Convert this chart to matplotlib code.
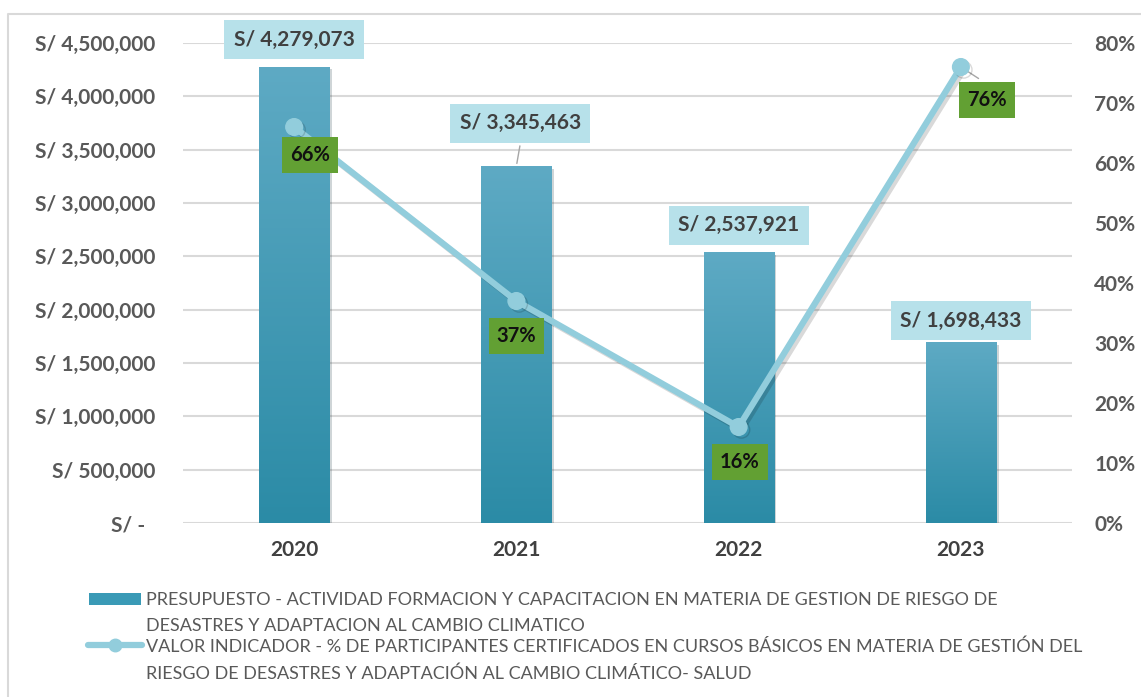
import numpy as np
import matplotlib
matplotlib.use("Agg")
import matplotlib.pyplot as plt
import matplotlib.patheffects as pe
from matplotlib.colors import LinearSegmentedColormap
from matplotlib.lines import Line2D
from matplotlib.patches import Rectangle

plt.rcParams['font.family'] = ['Lato', 'DejaVu Sans']

# data
years = ['2020', '2021', '2022', '2023']
presupuesto = [4279073, 3345463, 2537921, 1698433]
indicador = [0.66, 0.37, 0.16, 0.76]
left_ticks = [0, 500000, 1000000, 1500000, 2000000, 2500000, 3000000, 3500000, 4000000, 4500000]
right_ticks = [0, 0.1, 0.2, 0.3, 0.4, 0.5, 0.6, 0.7, 0.8]
legend_lines = [
    "PRESUPUESTO - ACTIVIDAD FORMACION Y CAPACITACION EN MATERIA DE GESTION DE RIESGO DE",
    "DESASTRES Y ADAPTACION AL CAMBIO CLIMATICO",
    "VALOR INDICADOR - % DE PARTICIPANTES CERTIFICADOS EN CURSOS BÁSICOS EN MATERIA DE GESTIÓN DEL",
    "RIESGO DE DESASTRES Y ADAPTACIÓN AL CAMBIO CLIMÁTICO- SALUD",
]

# label offsets in pixels (layout only)
bar_lbl_off = [(0, 27), (4, 43), (0, 27), (0, 21)]
pct_lbl_off = [(16, -28), (0, -35), (1, -35), (26, -33)]

W, H = 1141, 697
fig = plt.figure(figsize=(W / 100, H / 100), dpi=100)
ax = fig.add_axes([183 / W, 1 - 523 / H, 889 / W, 480 / H])
ax2 = ax.twinx()

grid_c = '#d9d9d9'
tick_c = '#595959'
line_c = '#92cddc'

x = np.arange(len(years))
bars = ax.bar(x, presupuesto, width=0.315, color='#3a9ab6', zorder=2,
              path_effects=[pe.SimplePatchShadow(offset=(2, -2), alpha=0.2), pe.Normal()])
cmap = LinearSegmentedColormap.from_list('bar', ['#2b8ba6', '#5eaac4'])
grad = np.linspace(0, 1, 256).reshape(-1, 1)
for b in bars:
    im = ax.imshow(grad, extent=[b.get_x(), b.get_x() + b.get_width(), 0, b.get_height()],
                   origin='lower', aspect='auto', cmap=cmap, zorder=3)
    im.set_clip_path(b)

ax.set_xlim(-0.5, 3.5)
ax.set_ylim(0, 4500000)
ax.set_yticks(left_ticks)
ax.set_yticklabels(['S/ -  '] + ['S/ {:,}'.format(v) for v in left_ticks[1:]])
ax.set_xticks(x)
ax.set_xticklabels(years)
ax.grid(axis='y', color=grid_c, lw=1.5, zorder=0)
ax.set_axisbelow(True)

for a in (ax, ax2):
    for s in a.spines.values():
        s.set_visible(False)
ax.tick_params(axis='y', length=0, pad=20, labelsize=15, labelcolor=tick_c)
ax.tick_params(axis='x', length=0, pad=12, labelsize=15, labelcolor='#404040')
for t in ax.get_yticklabels() + ax.get_xticklabels():
    t.set_fontweight('bold')

ax2.set_ylim(0, 0.8)
ax2.set_yticks(right_ticks)
ax2.set_yticklabels(['{:.0f}%'.format(v * 100) for v in right_ticks])
ax2.tick_params(axis='y', length=0, pad=16, labelsize=15, labelcolor=tick_c)
for t in ax2.get_yticklabels():
    t.set_fontweight('bold')

ax2.plot(x, indicador, color=line_c, lw=4.5, marker='o', ms=12, solid_capstyle='round',
         path_effects=[pe.SimpleLineShadow(offset=(2, -2), alpha=0.15), pe.Normal()], zorder=4)

# bar value labels
for i, v in enumerate(presupuesto):
    dx, dy = bar_lbl_off[i]
    ax.annotate('S/ {:,}'.format(v), (x[i], v), xytext=(dx, dy), textcoords='offset pixels',
                ha='center', va='center', fontsize=15, fontweight='bold', color='#404040',
                bbox=dict(boxstyle='square,pad=0.45', fc='#b7e1ea', ec='none'), zorder=6,
                annotation_clip=False)
# leader line for 2021
ax.annotate('', (x[1], presupuesto[1]), xytext=(4, 23), textcoords='offset pixels',
            arrowprops=dict(arrowstyle='-', color='#a6a6a6', lw=1), annotation_clip=False)

# percentage labels
for i, v in enumerate(indicador):
    dx, dy = pct_lbl_off[i]
    ax2.annotate('{:.0f}%'.format(v * 100), (x[i], v), xytext=(dx, dy), textcoords='offset pixels',
                 ha='center', va='center', fontsize=14.5, fontweight='bold', color='#111111',
                 bbox=dict(boxstyle='square,pad=0.4', fc='#62a033', ec='none'), zorder=6,
                 annotation_clip=False)
ax2.annotate('', (x[3], indicador[3]), xytext=(20, -13), textcoords='offset pixels',
             arrowprops=dict(arrowstyle='-', color='#a6a6a6', lw=1), zorder=3)

# legend (manual)
fig.patches.append(Rectangle((89 / W, 1 - 605 / H), 52 / W, 12 / H, transform=fig.transFigure,
                             fc='#3a9ab6', ec='none'))
fig.lines.append(Line2D([88 / W, 142 / W], [1 - 645 / H] * 2, transform=fig.transFigure,
                        color=line_c, lw=4.5, solid_capstyle='round'))
fig.lines.append(Line2D([115 / W], [1 - 645 / H], transform=fig.transFigure,
                        color=line_c, marker='o', ms=9))
for txt, yb in zip(legend_lines, [605, 631, 652, 679]):
    fig.text(146 / W, 1 - yb / H, txt, fontsize=13, color='#595959', va='baseline', ha='left')

# chart border
fig.lines.append(Line2D([8 / W, 8 / W, 1], [0, 1 - 14 / H, 1 - 14 / H], transform=fig.transFigure,
                        color=grid_c, lw=1.5))

fig.savefig('out.png', dpi=100)
